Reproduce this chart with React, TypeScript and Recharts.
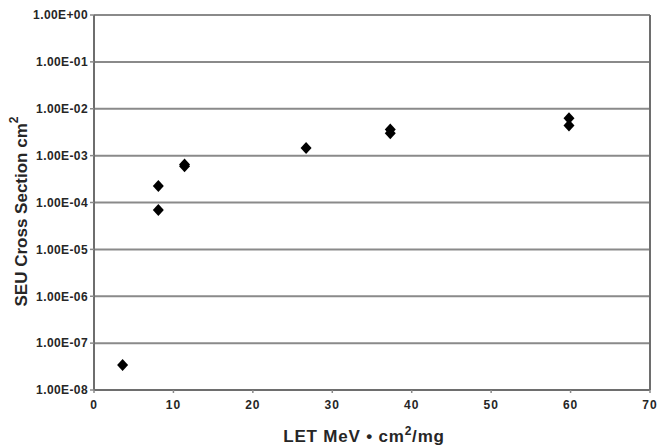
import { CartesianGrid, Label, ReferenceLine, Scatter, ScatterChart, XAxis, YAxis } from 'recharts';

// LET (MeV·cm²/mg) and measured SEU cross sections (cm²)
const letValues = [3.6, 8.1, 8.1, 11.4, 11.4, 26.7, 37.3, 37.3, 59.8, 59.8];
const crossSections = [3.4e-8, 2.25e-4, 6.9e-5, 6.5e-4, 5.9e-4, 1.46e-3, 3.6e-3, 3.0e-3, 6.3e-3, 4.4e-3];

const xTicks = [0, 10, 20, 30, 40, 50, 60, 70];
const yTicks = [1e-8, 1e-7, 1e-6, 1e-5, 1e-4, 1e-3, 1e-2, 1e-1, 1];

const points = letValues.map((x, i) => ({ x, y: crossSections[i] }));

const FONT = '"Liberation Sans", Arial, sans-serif';
const GRID = '#8a8a8a';
const TEXT = '#262626';

function formatSci(v: number) {
  const exp = Math.round(Math.log10(v));
  const sign = exp < 0 ? '-' : '+';
  return `1.00E${sign}${String(Math.abs(exp)).padStart(2, '0')}`;
}

function Diamond({ cx, cy }: any) {
  if (cx == null || cy == null) return null;
  const w = 5.5;
  const h = 6;
  return <polygon points={`${cx},${cy - h} ${cx + w},${cy} ${cx},${cy + h} ${cx - w},${cy}`} fill="#000" />;
}

function YTitle({ viewBox }: any) {
  const cx = 21;
  const cy = viewBox ? viewBox.y + viewBox.height / 2 + 9 : 211;
  return (
    <text
      x={cx}
      y={cy}
      transform={`rotate(-90 ${cx} ${cy})`}
      textAnchor="middle"
      dominantBaseline="central"
      fontFamily={FONT}
      fontWeight="bold"
      fontSize={17}
      fill={TEXT}
    >
      SEU Cross Section cm
      <tspan fontSize={12} dy={-7}>2</tspan>
    </text>
  );
}

function XTitle({ viewBox }: any) {
  const cx = viewBox ? viewBox.x + viewBox.width / 2 - 8 : 363;
  return (
    <text x={cx} y={442} textAnchor="middle" fontFamily={FONT} fontWeight="bold" fontSize={17} fill={TEXT} letterSpacing={0.8}>
      LET MeV • cm
      <tspan fontSize={12} dy={-7}>2</tspan>
      <tspan dy={7}>/mg</tspan>
    </text>
  );
}

export default function App() {
  return (
    <div style={{ position: 'absolute', left: 0, top: 0, width: 659, height: 448, background: '#fff' }}>
      <ScatterChart width={659} height={448} margin={{ top: 15, right: 9, bottom: 28, left: 0 }}>
        <CartesianGrid horizontal vertical={false} stroke={GRID} strokeWidth={2} />
        <XAxis
          type="number"
          dataKey="x"
          domain={[0, 70]}
          ticks={xTicks}
          interval={0}
          height={30}
          tickSize={3}
          tickMargin={7}
          tickLine={{ stroke: GRID, strokeWidth: 1.5 }}
          axisLine={{ stroke: '#6e6e6e', strokeWidth: 2 }}
          tick={{ fontSize: 12, fontWeight: 'bold', fill: TEXT, fontFamily: FONT, letterSpacing: 1 }}
        >
          <Label content={<XTitle />} />
        </XAxis>
        <YAxis
          type="number"
          dataKey="y"
          scale="log"
          domain={[1e-8, 1]}
          ticks={yTicks}
          interval={0}
          allowDataOverflow
          width={94}
          tickSize={4}
          tickLine={{ stroke: GRID, strokeWidth: 1.5 }}
          axisLine={{ stroke: '#6e6e6e', strokeWidth: 2 }}
          tickFormatter={formatSci}
          tick={{ fontSize: 12, fontWeight: 'bold', fill: TEXT, fontFamily: FONT, letterSpacing: 0.4 }}
        >
          <Label content={<YTitle />} />
        </YAxis>
        <ReferenceLine x={70} stroke="#6e6e6e" strokeWidth={2} ifOverflow="extendDomain" />
        <Scatter data={points} shape={<Diamond />} isAnimationActive={false} />
      </ScatterChart>
    </div>
  );
}
